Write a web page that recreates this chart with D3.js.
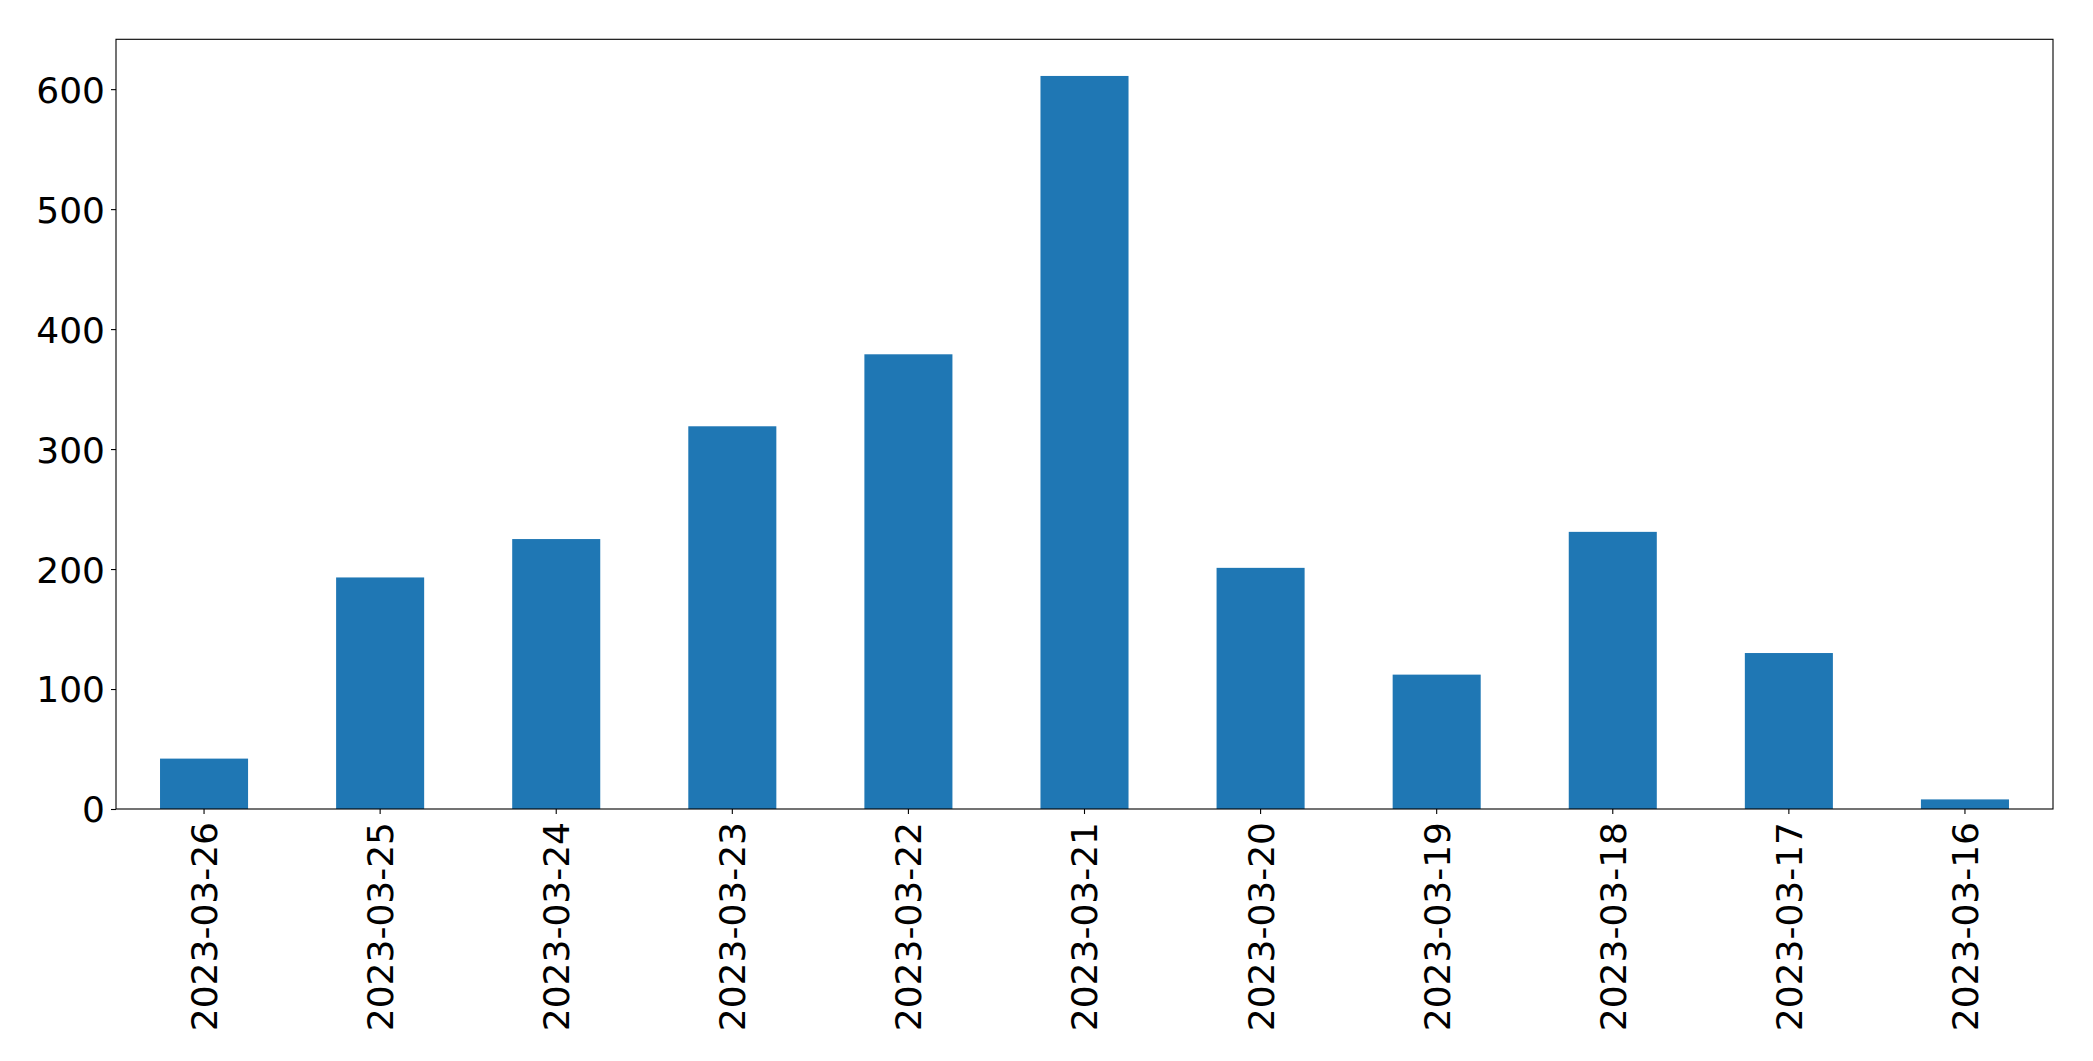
<!DOCTYPE html>
<html>
<head>
<meta charset="utf-8">
<script src="https://cdn.jsdelivr.net/npm/d3@7"></script>
<style>
  html, body { margin: 0; padding: 0; background: #fff; }
  svg { display: block; }
  .axis text { font-family: 'DejaVu Sans', sans-serif; font-size: 36px; fill: #000; }
  .axis line { stroke: #000; stroke-width: 1.1; }
</style>
</head>
<body>
<svg id="chart"></svg>
<script>
// daily counts, newest first (as in the source plot)
var dates = ['2023-03-26', '2023-03-25', '2023-03-24', '2023-03-23', '2023-03-22',
             '2023-03-21', '2023-03-20', '2023-03-19', '2023-03-18', '2023-03-17', '2023-03-16'];
var counts = [42, 193, 225, 319, 379, 611, 201, 112, 231, 130, 8];
var yTicks = [0, 100, 200, 300, 400, 500, 600];

(function () {
    var W = 2093, H = 1061;
    var margin = { top: 39.3, right: 40, bottom: 252, left: 116 };
    var iw = W - margin.left - margin.right;
    var ih = H - margin.top - margin.bottom;

    var svg = d3.select('#chart').attr('width', W).attr('height', H);
    var g = svg.append('g')
        .attr('transform', 'translate(' + margin.left + ',' + margin.top + ')');

    var x = d3.scaleBand().domain(dates).range([0, iw])
        .paddingInner(0.5).paddingOuter(0.25);
    var yMax = d3.max(counts) * 1.05;
    var y = d3.scaleLinear().domain([0, yMax]).range([ih, 0]);

    g.selectAll('rect.bar').data(dates).enter().append('rect')
        .attr('class', 'bar')
        .attr('x', function (d) { return x(d); })
        .attr('width', x.bandwidth())
        .attr('y', function (d, i) { return y(counts[i]); })
        .attr('height', function (d, i) { return ih - y(counts[i]); })
        .attr('fill', '#1f77b4');

    var yAxis = g.append('g').attr('class', 'axis')
        .call(d3.axisLeft(y).tickValues(yTicks).tickSize(5).tickPadding(6));
    yAxis.select('.domain').remove();
    yAxis.selectAll('text').attr('dy', '0.36em');

    var xAxis = g.append('g').attr('class', 'axis')
        .attr('transform', 'translate(0,' + ih + ')')
        .call(d3.axisBottom(x).tickSize(5).tickPadding(6));
    xAxis.select('.domain').remove();
    xAxis.selectAll('text')
        .attr('transform', 'rotate(-90)')
        .attr('text-anchor', 'end')
        .attr('x', -13)
        .attr('y', 0)
        .attr('dy', '0.36em');

    // axes frame
    g.append('rect')
        .attr('x', 0).attr('y', 0)
        .attr('width', iw).attr('height', ih)
        .attr('fill', 'none')
        .attr('stroke', '#000')
        .attr('stroke-width', 1.1);
})();
</script>
</body>
</html>
